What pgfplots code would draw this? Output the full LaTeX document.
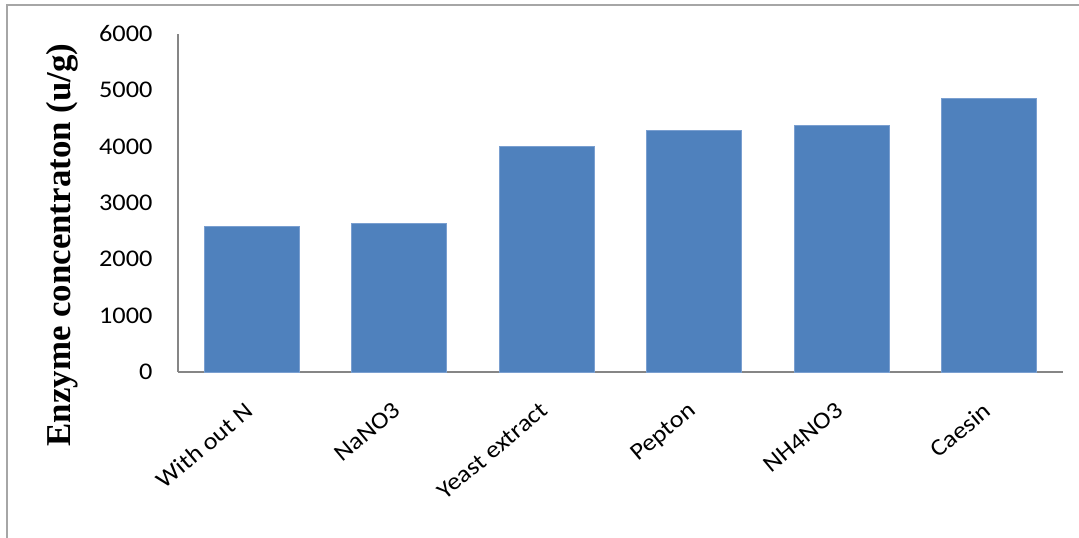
\documentclass[border=0pt]{standalone}
\usepackage{fontspec}
\setmainfont{Carlito}
\newfontfamily\tickfont[FakeStretch=1.1]{Carlito}
\newfontfamily\serifbold{Liberation Serif}
\usepackage{pgfplots}
\pgfplotsset{compat=1.18}
\definecolor{barblue}{HTML}{4F81BD}
\definecolor{baredge}{HTML}{7A9FD0}
\definecolor{axisgray}{HTML}{868686}
\definecolor{framegray}{HTML}{A6A6A6}
\begin{document}
\begin{tikzpicture}[x=1bp,y=1bp]
\useasboundingbox (0,0) rectangle (1079,538);
% chart area frame
\draw[framegray, line width=1.5bp] (7,0) -- (7,533) -- (1079,533);
\begin{axis}[
  at={(178bp,166bp)}, anchor=south west,
  scale only axis,
  width=885bp, height=338bp,
  xmin=-0.5, xmax=5.5,
  ymin=0, ymax=6000,
  axis x line=bottom, axis y line=left,
  axis line style={axisgray, line width=1.3bp, -},
  xtick={0,...,5},
  xticklabels={With out N, NaNO3, Yeast extract, Pepton, NH4NO3, Caesin},
  ytick={0,1000,...,6000},
  major tick length=0pt,
  /pgf/number format/assume math mode=true,
  yticklabel style={font=\tickfont\fontsize{24}{24}\selectfont, /pgf/number format/fixed, /pgf/number format/1000 sep={}, xshift=-22bp},
  xticklabel style={font=\tickfont\fontsize{24}{24}\selectfont, rotate=40, anchor=north east, xshift=-21bp, yshift=-14bp},
  ylabel={\serifbold\bfseries Enzyme concentraton (u/g)},
  ylabel style={font=\fontsize{35}{35}\selectfont, at={(axis description cs:-0.1311,0.3757)}, anchor=center},
  clip=false,
]
\addplot[ybar, bar width=95bp, fill=barblue, draw=baredge, line width=0.8bp]
  coordinates {(0,2590) (1,2640) (2,4010) (3,4290) (4,4370) (5,4860)};
\end{axis}
\end{tikzpicture}
\end{document}
